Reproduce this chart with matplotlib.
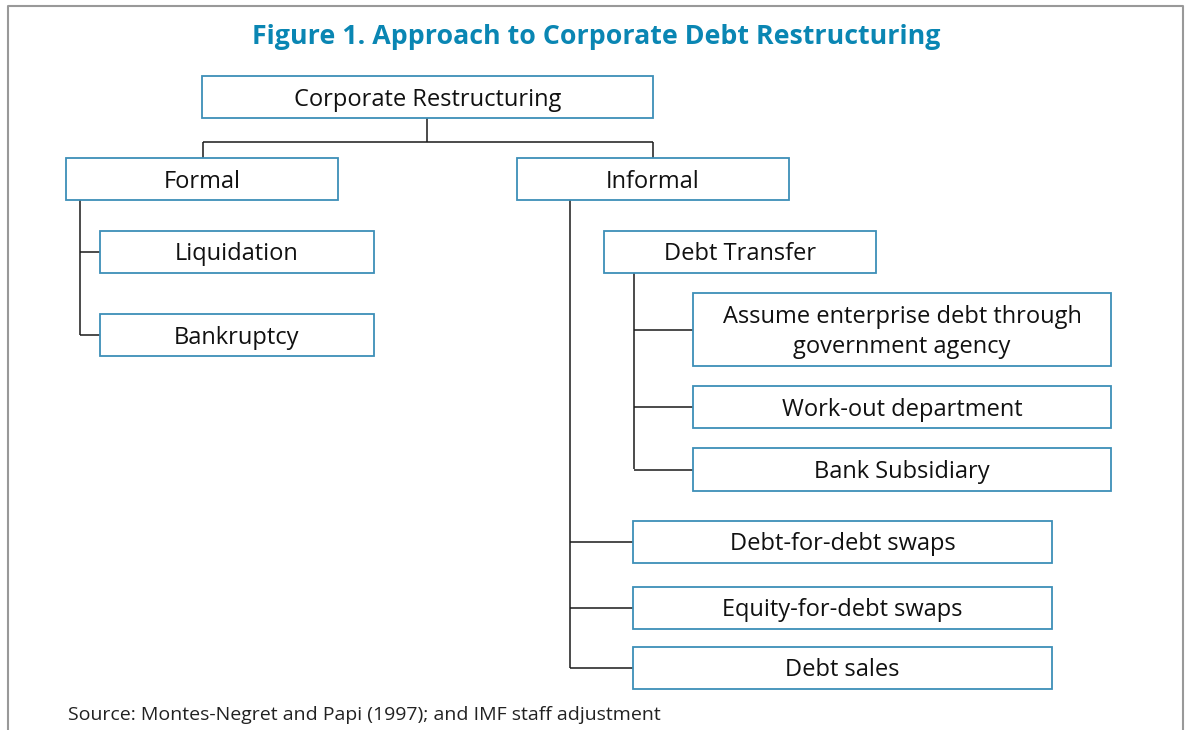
import matplotlib
matplotlib.use('Agg')
import matplotlib.pyplot as plt
from matplotlib.patches import Rectangle

# 文本内容
TITLE = 'Figure 1. Approach to Corporate Debt Restructuring'
SOURCE = 'Source: Montes-Negret and Papi (1997); and IMF staff adjustment'
ROOT = 'Corporate Restructuring'
BRANCHES = ['Formal', 'Informal']
FORMAL_ITEMS = ['Liquidation', 'Bankruptcy']
TRANSFER = 'Debt Transfer'
TRANSFER_ITEMS = ['Assume enterprise debt through\ngovernment agency',
                  'Work-out department', 'Bank Subsidiary']
INFORMAL_ITEMS = ['Debt-for-debt swaps', 'Equity-for-debt swaps', 'Debt sales']

# 布局 (像素坐标: x0, y0, x1, y1)
BOX_ROOT = (202, 76, 653, 118)
BOX_BRANCH = [(66, 158, 338, 200), (517, 158, 789, 200)]
BOX_FORMAL = [(100, 231, 374, 273), (100, 314, 374, 356)]
BOX_TRANSFER = (604, 231, 876, 273)
BOX_TRANSFER_ITEMS = [(693, 293, 1111, 366), (693, 386, 1111, 428), (693, 448, 1111, 491)]
BOX_INFORMAL = [(633, 521, 1052, 563), (633, 587, 1052, 629), (633, 647, 1052, 689)]

EDGE = '#3d8fb8'
TITLE_COLOR = '#0a86b3'
LINE = '#1a1a1a'
FONT = 'Open Sans'

fig = plt.figure(figsize=(11.85, 7.3), dpi=100)
ax = fig.add_axes([0, 0, 1, 1])
ax.set_xlim(0, 1185)
ax.set_ylim(730, 0)
ax.axis('off')


def box(rect, label):
    x0, y0, x1, y1 = rect
    ax.add_patch(Rectangle((x0, y0), x1 - x0, y1 - y0, facecolor='white',
                           edgecolor=EDGE, linewidth=1.3, zorder=3))
    ax.text((x0 + x1) / 2, (y0 + y1) / 2 + 2.5, label, ha='center', va='center',
            fontsize=17, family=FONT, color='#111111', linespacing=1.3, zorder=4)


def line(xs, ys):
    ax.plot(xs, ys, color=LINE, linewidth=1.1, zorder=2, solid_capstyle='butt')


# 外框
ax.plot([8, 8, 1183, 1183], [730, 6, 6, 730], color='#999999', linewidth=1.5)

ax.text(596, 37, TITLE, ha='center', va='center', fontsize=19.3,
        fontweight='bold', family=FONT, color=TITLE_COLOR)
ax.text(68, 715, SOURCE, ha='left', va='center', fontsize=14,
        family=FONT, color='#222222')

# 连接线
line([427, 427], [118, 142])
line([203, 653], [142, 142])
line([203, 203], [142, 158])
line([653, 653], [142, 158])

line([80, 80], [200, 335])
for rect in BOX_FORMAL:
    yc = (rect[1] + rect[3]) / 2
    line([80, rect[0]], [yc, yc])

line([570, 570], [200, 668])
for rect in BOX_INFORMAL:
    yc = (rect[1] + rect[3]) / 2
    line([570, rect[0]], [yc, yc])

line([634, 634], [273, 469])
for rect in BOX_TRANSFER_ITEMS:
    yc = (rect[1] + rect[3]) / 2
    line([634, rect[0]], [yc, yc])

# 方框
box(BOX_ROOT, ROOT)
for rect, label in zip(BOX_BRANCH, BRANCHES):
    box(rect, label)
for rect, label in zip(BOX_FORMAL, FORMAL_ITEMS):
    box(rect, label)
box(BOX_TRANSFER, TRANSFER)
for rect, label in zip(BOX_TRANSFER_ITEMS, TRANSFER_ITEMS):
    box(rect, label)
for rect, label in zip(BOX_INFORMAL, INFORMAL_ITEMS):
    box(rect, label)

fig.savefig('out.png', dpi=100)
plt.close(fig)
